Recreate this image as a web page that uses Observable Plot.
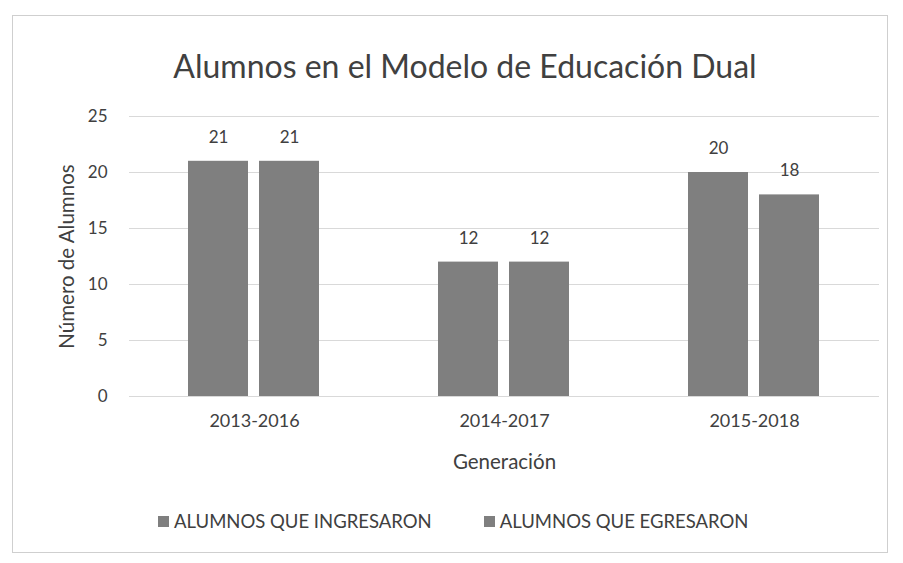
<!DOCTYPE html>
<html>
<head>
<meta charset="utf-8">
<script src="https://cdn.jsdelivr.net/npm/d3@7"></script>
<script src="https://cdn.jsdelivr.net/npm/@observablehq/plot@0.6"></script>
<style>
  html, body { margin: 0; padding: 0; background: #fff; }
  body { width: 903px; height: 563px; position: relative; overflow: hidden; font-family: Lato, "Open Sans", sans-serif; color: #404040; }
  #frame { position: absolute; left: 12px; top: 15px; width: 876px; height: 538px; border: 1px solid #cfcfcf; box-sizing: border-box; }
  #title { position: absolute; left: 0; width: 930px; top: 46px; text-align: center; font-size: 32px; line-height: 40px; color: #404040; }
  #chart { position: absolute; left: 0; top: 90px; }
  #legend { position: absolute; left: 158px; top: 509px; font-size: 18.5px; line-height: 24px; color: #404040; display: flex; }
  .item { display: flex; align-items: center; }
  .sw { width: 11px; height: 11px; margin-right: 5px; display: inline-block; }
</style>
</head>
<body>
<div id="frame"></div>
<div id="title">Alumnos en el Modelo de Educación Dual</div>
<div id="chart"></div>
<div id="legend"></div>
<script>
const generations = ["2013-2016", "2014-2017", "2015-2018"];
const series = ["ALUMNOS QUE INGRESARON", "ALUMNOS QUE EGRESARON"];
const ingresaron = [21, 12, 20];
const egresaron = [21, 12, 18];
const yTicks = [0, 5, 10, 15, 20, 25];
const barColor = "#7f7f7f";
const yLabel = "Número de Alumnos";
const xLabel = "Generación";

const data = [];
generations.forEach((g, i) => {
  data.push({gen: g, serie: series[0], value: ingresaron[i]});
  data.push({gen: g, serie: series[1], value: egresaron[i]});
});

const chart = Plot.plot({
  width: 903,
  height: 405,
  marginTop: 26,
  marginBottom: 99,
  marginLeft: 128,
  marginRight: 23,
  style: {fontFamily: "Lato, 'Open Sans', sans-serif", fontSize: "17px", color: "#404040", background: "transparent"},
  fx: {domain: generations, padding: 0, label: null},
  x: {domain: series, paddingInner: 0.153, paddingOuter: 0.82, axis: null},
  y: {domain: [0, 25], ticks: yTicks, label: null},
  marks: [
    Plot.ruleY(yTicks, {stroke: "#d9d9d9", strokeWidth: 1.2}),
    Plot.barY(data, {fx: "gen", x: "serie", y: "value", fill: barColor}),
    Plot.text(data, {fx: "gen", x: "serie", y: "value", text: d => String(d.value), dy: -24, fontSize: 17, fill: "#404040"}),
    Plot.axisY({ticks: yTicks, tickSize: 0, tickPadding: 22, fontSize: 17, label: null}),
    Plot.axisY({ticks: [], tickSize: 0, label: yLabel, labelAnchor: "center", labelArrow: "none", labelOffset: 70}),
    Plot.axisFx({anchor: "bottom", tickSize: 0, tickPadding: 18, fontSize: 18, label: null}),
    Plot.axisFx({anchor: "bottom", ticks: [], tickSize: 0, label: xLabel, labelAnchor: "center", labelArrow: "none", labelOffset: 72})
  ]
});
chart.querySelectorAll("text").forEach(t => {
  if (t.textContent === yLabel || t.textContent === xLabel) t.setAttribute("font-size", "20.5px");
});
document.getElementById("chart").appendChild(chart);

const legend = document.getElementById("legend");
series.forEach((s, i) => {
  const item = document.createElement("div");
  item.className = "item";
  item.style.marginRight = i === 0 ? "52px" : "0";
  const sw = document.createElement("span");
  sw.className = "sw";
  sw.style.background = barColor;
  item.appendChild(sw);
  item.appendChild(document.createTextNode(s));
  legend.appendChild(item);
});
</script>
</body>
</html>
